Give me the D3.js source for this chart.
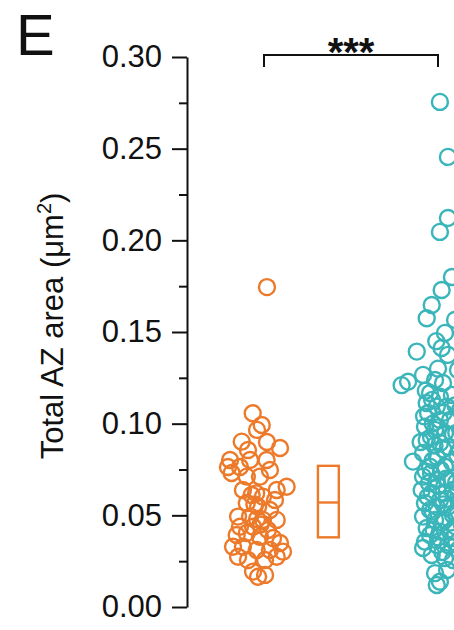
<!DOCTYPE html>
<html>
<head>
<meta charset="utf-8">
<script src="https://cdn.jsdelivr.net/npm/d3@7"></script>
<style>
  html, body { margin: 0; padding: 0; background: #fff; }
  svg { display: block; }
  text { font-family: "Liberation Sans", Arial, sans-serif; fill: #111; }
</style>
</head>
<body>
<svg id="chart" width="454" height="630"></svg>
<script>
// ---- data ----
const categories = ["Group 1", "Group 2"];
const yTicks = [0.00, 0.05, 0.10, 0.15, 0.20, 0.25, 0.30];
const yMinorTicks = [0.025, 0.075, 0.125, 0.175, 0.225, 0.275];

const orangeValues = [0.1057, 0.0993, 0.0966, 0.0900, 0.0867, 0.0902, 0.0856, 0.0802, 0.0764, 0.0764,
  0.0802, 0.0802, 0.0747, 0.0731, 0.0711, 0.0711, 0.0656, 0.0638, 0.0638, 0.0611,
  0.0602, 0.0584, 0.0567, 0.0547, 0.0529, 0.0493, 0.0493, 0.0475, 0.0475, 0.0438,
  0.0438, 0.0420, 0.0393, 0.0404, 0.0383, 0.0376, 0.0349, 0.0329, 0.0329, 0.0311,
  0.0311, 0.0302, 0.0274, 0.0256, 0.0256, 0.0274, 0.0193, 0.0175, 0.0165, 0.1745,
  0.0560, 0.0480, 0.0620, 0.0450];
const orangeOffsets = [-0.065, -0.013, -0.040, 0.017, 0.092, -0.128, -0.092, -0.195, -0.207, -0.138,
  -0.080, 0.015, 0.034, -0.186, -0.099, -0.023, 0.130, 0.073, -0.121, -0.071,
  -0.006, 0.063, -0.099, -0.034, 0.034, -0.149, -0.080, -0.006, 0.073, -0.138,
  -0.063, 0.023, -0.157, -0.099, -0.023, 0.052, 0.092, -0.178, -0.121, -0.042,
  0.034, 0.109, -0.149, -0.092, 0.006, 0.073, -0.063, 0.006, -0.034, 0.017,
  -0.055, -0.040, -0.045, -0.020];
// box summary for group 1: [Q1, median, Q3]
const orangeBox = [0.038, 0.057, 0.077];

const cyanValues = [0.2755, 0.2455, 0.2122, 0.2046, 0.1800, 0.1729, 0.1647, 0.1575, 0.1495, 0.1413,
  0.1393, 0.1375, 0.1266, 0.1229, 0.1238, 0.1222, 0.1167, 0.1147, 0.1113, 0.1093,
  0.1093, 0.1058, 0.1020, 0.1020, 0.0983, 0.0966, 0.0949, 0.0911, 0.0895, 0.0874,
  0.0840, 0.0820, 0.0793, 0.0765, 0.0765, 0.0711, 0.0693, 0.0693, 0.0638, 0.0622,
  0.0622, 0.0567, 0.0547, 0.0547, 0.0493, 0.0475, 0.0475, 0.0431, 0.0411, 0.0411,
  0.0356, 0.0338, 0.0338, 0.0322, 0.0284, 0.0267, 0.0256, 0.0185, 0.0138, 0.0120,
  0.1210, 0.1130, 0.1060, 0.1157, 0.0940, 0.0927, 0.0790, 0.0747, 0.0676, 0.0638,
  0.0584, 0.0502, 0.0529, 0.0365, 0.0376, 0.0393, 0.0202, 0.0311, 0.0584, 0.0856,
  0.1075, 0.1293, 0.1566, 0.0447, 0.0720, 0.0966,
  0.1180, 0.1040, 0.0980, 0.0900, 0.0860, 0.0800, 0.0740, 0.0700, 0.0660, 0.0600,
  0.0560, 0.0520, 0.0460, 0.0420, 0.0380, 0.0300, 0.1100, 0.0950, 0.0830, 0.0680,
  0.0610, 0.0500, 0.0440, 0.0350, 0.1000, 0.0880, 0.0730, 0.0590, 0.1300, 0.1450];
const cyanOffsets = [0.011, 0.057, 0.057, 0.011, 0.080, 0.021, -0.036, -0.065, 0.040, 0.021,
  -0.122, 0.057, -0.086, -0.172, -0.017, 0.029, -0.046, 0.011, -0.065, -0.007,
  0.050, -0.057, 0.011, 0.069, -0.075, -0.017, 0.040, -0.065, 0.011, 0.057,
  -0.086, -0.007, -0.144, -0.046, 0.040, -0.086, -0.007, 0.057, -0.094, -0.036,
  0.029, -0.075, -0.007, 0.057, -0.086, -0.017, 0.040, -0.065, 0.011, 0.069,
  -0.075, -0.007, 0.057, -0.086, -0.036, 0.040, 0.086, -0.017, 0.011, -0.007,
  -0.209, -0.034, 0.034, 0.080, 0.086, -0.040, 0.080, 0.017, -0.052, 0.086,
  0.011, 0.086, -0.046, 0.017, 0.086, -0.046, 0.052, 0.115, 0.126, 0.126,
  0.126, 0.115, 0.098, 0.138, 0.138, 0.138,
  -0.070, -0.080, 0.000, -0.100, 0.030, -0.030, -0.070, 0.045, 0.000, -0.060,
  0.030, -0.030, 0.025, -0.025, 0.000, 0.025, 0.100, 0.105, 0.110, 0.105,
  0.100, 0.110, 0.100, 0.105, -0.030, -0.020, -0.040, 0.050, 0.000, -0.010];

const significance = "***";
const yLabel = "Total AZ area (\u03bcm";

// ---- drawing ----
const orange = "#EC7A2A";
const cyan = "#3AB5BA";
const svg = d3.select("#chart");

const y = d3.scaleLinear().domain([0, 0.30]).range([607, 57]);
const x = d3.scalePoint().domain(categories).range([264, 438]);
const step = x.step();

// panel letter
svg.append("text").attr("x", 16).attr("y", 55)
  .style("font-size", "58px").text("E");

// y axis
const axis = d3.axisLeft(y).tickValues(yTicks).tickFormat(d3.format(".2f"))
  .tickSizeInner(15).tickSizeOuter(0).tickPadding(10);
const gAxis = svg.append("g").attr("transform", "translate(187,0)").call(axis);
gAxis.select(".domain").attr("stroke", "#111").attr("stroke-width", 2);
gAxis.selectAll(".tick line").attr("stroke", "#111").attr("stroke-width", 2);
gAxis.selectAll(".tick text").style("font-size", "31px").attr("fill", "#111")
  .style("font-family", "'Liberation Sans', Arial, sans-serif");
const minor = d3.axisLeft(y).tickValues(yMinorTicks).tickSize(8).tickFormat("");
const gMinor = svg.append("g").attr("transform", "translate(187,0)").call(minor);
gMinor.select(".domain").remove();
gMinor.selectAll(".tick line").attr("stroke", "#111").attr("stroke-width", 2);

// y label
const lab = svg.append("text")
  .attr("transform", `translate(63,326) rotate(-90)`)
  .attr("text-anchor", "middle").style("font-size", "31px");
lab.append("tspan").text(yLabel);
lab.append("tspan").attr("dy", -12).style("font-size", "20px").text("2");
lab.append("tspan").attr("dy", 12).text(")");

// points
function drawPoints(values, offsets, cat, color) {
  svg.append("g").selectAll("circle")
    .data(values.map((v, i) => ({ v, o: offsets[i] })))
    .join("circle")
    .attr("cx", d => x(cat) + d.o * step)
    .attr("cy", d => y(d.v))
    .attr("r", 8)
    .attr("fill", "none")
    .attr("stroke", color)
    .attr("stroke-width", 2.4);
}
drawPoints(orangeValues, orangeOffsets, categories[0], orange);
drawPoints(cyanValues, cyanOffsets, categories[1], cyan);

// box for group 1
const bx = x(categories[0]) + 0.37 * step;
const bw = 0.12 * step;
const gb = svg.append("g").attr("fill", "none").attr("stroke", orange).attr("stroke-width", 2.4);
gb.append("rect").attr("x", bx - bw / 2).attr("y", y(orangeBox[2]))
  .attr("width", bw).attr("height", y(orangeBox[0]) - y(orangeBox[2]));
gb.append("line").attr("x1", bx - bw / 2).attr("x2", bx + bw / 2)
  .attr("y1", y(orangeBox[1])).attr("y2", y(orangeBox[1]));

// significance bracket
const by = 55;
svg.append("path")
  .attr("d", `M${x(categories[0])},${by + 12}V${by}H${x(categories[1])}V${by + 12}`)
  .attr("fill", "none").attr("stroke", "#111").attr("stroke-width", 2);
svg.append("text").attr("x", (x(categories[0]) + x(categories[1])) / 2).attr("y", 66)
  .attr("text-anchor", "middle").style("font-size", "40px").style("font-weight", "bold")
  .text(significance);
</script>
</body>
</html>
